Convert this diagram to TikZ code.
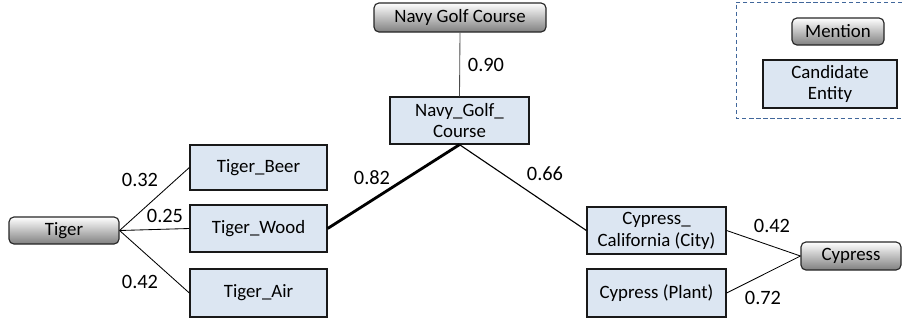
\documentclass[tikz,border=0pt]{standalone}
\usepackage{fontspec}
\setmainfont{Carlito}
\usepackage{tikz}
\usetikzlibrary{calc}

\definecolor{entityblue}{HTML}{DCE6F2}
\definecolor{legendblue}{HTML}{41679B}

\begin{document}
\begin{tikzpicture}[x=0.025cm,y=-0.025cm,
	mention/.style={draw=black!85,line width=0.8pt,rounded corners=3.5pt,
		top color=white,bottom color=black!50,inner sep=0pt,
		font=\fontsize{13.4}{15}\selectfont},
	entity/.style={draw=black!90,line width=0.9pt,fill=entityblue,inner sep=0pt,
		align=center,font=\fontsize{13.4}{15.5}\selectfont},
	score/.style={font=\fontsize{14.5}{16}\selectfont,inner sep=0pt},
	link/.style={line width=0.6pt}]

% frame %{{{2

	\useasboundingbox (0,0) rectangle (902,324);

% mentions %{{{2

	\node[mention,minimum width=110*0.025cm,minimum height=27*0.025cm] (Tiger) at (64,230.5) {Tiger};
	\node[mention,minimum width=172*0.025cm,minimum height=29*0.025cm] (Navy) at (460,17.5) {Navy Golf Course};
	\node[mention,minimum width=100*0.025cm,minimum height=28*0.025cm] (Cypress) at (851,256) {Cypress};

% candidate entities %{{{2

	\node[entity,minimum width=137*0.025cm,minimum height=45*0.025cm] (E1) at (258.5,167.5) {Tiger\_Beer};
	\node[entity,minimum width=137*0.025cm,minimum height=47*0.025cm] (E2) at (258.5,228.5) {Tiger\_Wood};
	\node[entity,minimum width=137*0.025cm,minimum height=48*0.025cm] (E3) at (258.5,293) {Tiger\_Air};
	\node[entity,minimum width=139*0.025cm,minimum height=47*0.025cm] (E4) at (459.5,120.5) {Navy\_Golf\_\\Course};
	\node[entity,minimum width=139*0.025cm,minimum height=47*0.025cm] (E5) at (656.5,230.5) {Cypress\_\\California (City)};
	\node[entity,minimum width=139*0.025cm,minimum height=48*0.025cm] (E6) at (656.5,293) {Cypress (Plant)};

% links %{{{2

	\draw[link] (Tiger.east) -- (E1.west);
	\draw[link] (Tiger.east) -- (E2.west);
	\draw[link] (Tiger.east) -- (E3.west);
	\draw[link,black!70] (Navy.south) -- (E4.north);
	\draw[line width=2pt] (E4.south) -- (E2.east);
	\draw[link,line width=0.8pt] (E4.south) -- (E5.west);
	\draw[link] (Cypress.west) -- (E5.east);
	\draw[link] (Cypress.west) -- (E6.east);

% scores %{{{2

	\node[score] (s1) at (140,180) {0.32};
	\node[score] (s2) at (165,216) {0.25};
	\node[score] (s3) at (140,282) {0.42};
	\node[score] (s4) at (486,65) {0.90};
	\node[score] (s5) at (372,178) {0.82};
	\node[score] (s6) at (545,174) {0.66};
	\node[score] (s7) at (772,226) {0.42};
	\node[score] (s8) at (763,298) {0.72};

% legend %{{{2

	\draw[legendblue,dash pattern=on 3pt off 2pt,line width=0.6pt] (902,2) -- (736,2) -- (736,118) -- (902,118);
	\node[mention,minimum width=92*0.025cm,minimum height=27*0.025cm] (LM) at (838,31.5) {Mention};
	\node[entity,minimum width=134*0.025cm,minimum height=48*0.025cm] (LE) at (830,84) {Candidate\\Entity};

% closing %{{{2

\end{tikzpicture}
\end{document}
